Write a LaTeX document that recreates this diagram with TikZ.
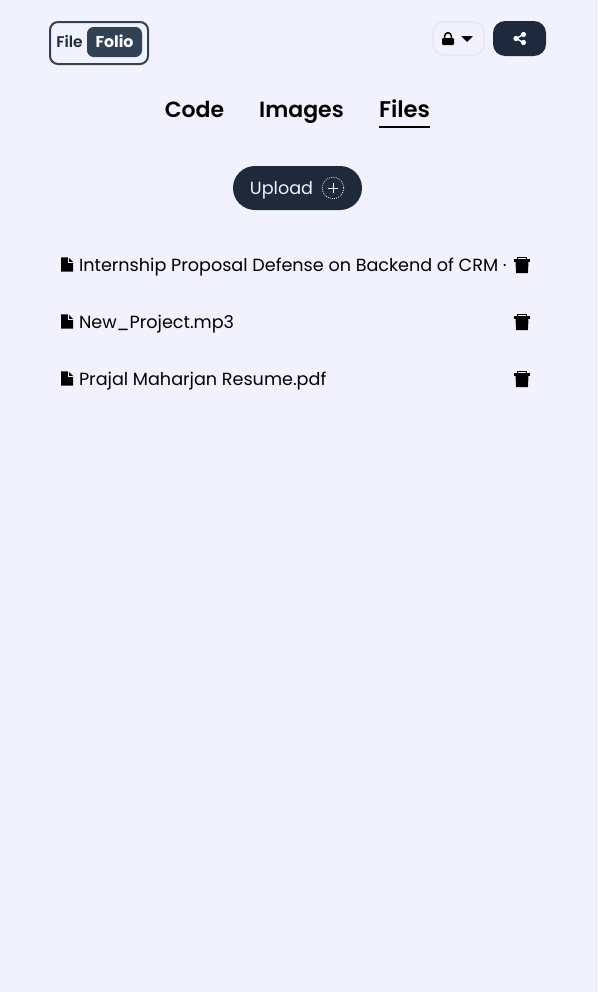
\documentclass[tikz,border=0pt]{standalone}
\usepackage{fontspec}
\setmainfont{Poppins}
\newfontfamily\popsemi{Poppins SemiBold}
\usetikzlibrary{positioning, calc}

\definecolor{pagebg}{HTML}{F2F2FF}
\definecolor{navy}{HTML}{1E293B}
\definecolor{slate}{HTML}{334155}
\definecolor{lockline}{HTML}{E9E9F2}

\begin{document}
\begin{tikzpicture}[
        x = 0.75pt,
        y = -0.75pt,
        every node/.style = {inner sep = 0pt, outer sep = 0pt},
        tablabel/.style = {
            font = \popsemi\fontsize{16.5pt}{20pt}\selectfont,
            text = black,
            anchor = base
        },
        filelabel/.style = {
            font = \fontsize{13.2pt}{16pt}\selectfont,
            text = black,
            anchor = base west
        },
        fileicon/.style = {fill = black, draw = none}
    ]

        \useasboundingbox (0,0) rectangle (597,992);
        \fill[pagebg] (0,0) rectangle (597,992);
        \fill[lockline] (596,0) rectangle (597,992);

        % logo
        \draw[slate, line width = 1.5pt, rounded corners = 6pt, fill = pagebg] (50,22) rectangle (148,64);
        \fill[slate, rounded corners = 5pt] (87,27) rectangle (142,57);
        \node[font = \popsemi\fontsize{11.6pt}{14pt}\selectfont, text = navy, anchor = base] (logofile) at (69.5,47.5) {File};
        \node[font = \bfseries\fontsize{11.8pt}{14pt}\selectfont, text = white, anchor = base] (logofolio) at (114.5,47) {Folio};

        % top right buttons
        \draw[lockline, line width = 1.5pt, rounded corners = 8pt] (433,22) rectangle (484,55);
        \fill[navy, rounded corners = 9pt] (493,21) rectangle (546,56);
        \draw[black, line width = 1.1pt] (444.7,39) -- (444.7,36) arc[start angle = 180, end angle = 360, radius = 3.3] -- (451.3,39);
        \fill[black, rounded corners = 0.8pt] (442,38) rectangle (454,45);
        \fill[black, rounded corners = 0.5pt] (461,36) -- (473,36) -- (467,42) -- cycle;
        \draw[white, line width = 1pt] (523.5,34.5) -- (516,38.5) -- (523.5,42.5);
        \fill[white] (523.5,34.5) circle (2.6) (516,38.5) circle (2.6) (523.5,42.5) circle (2.6);

        % tabs
        \node[tablabel] (code) at (194.5,117) {Code};
        \node[tablabel] (images) at (301.5,117) {Images};
        \node[tablabel, font = \popsemi\fontsize{17pt}{20pt}\selectfont] (files) at (404.5,117) {Files};
        \draw[black, line width = 1.5pt] (379,127) -- (430,127);

        % upload
        \fill[navy, rounded corners = 16.5pt] (233,166) rectangle (362,210);
        \node[font = \fontsize{13.2pt}{16pt}\selectfont, text = pagebg, anchor = base] (upload) at (281.5,194) {Upload};
        \draw[white, line width = 0.6pt, densely dotted] (333,188) circle (10.8);
        \draw[white, line width = 0.7pt] (328,188) -- (338,188) (333,183) -- (333,193);

        % file list
        \foreach \rowy/\rowname/\rowtext in {
            271/first/{Internship Proposal Defense on Backend of CRM ·},
            328/second/{New\_Project.mp3},
            385/third/{Prajal Maharjan Resume.pdf}} {
            \node[filelabel] (\rowname) at (79,\rowy) {\rowtext};
            \fill[fileicon] ($(61,\rowy)+(0,-13.7)$) -- ++(7.5,0) -- ++(4.5,4.5) -- ++(0,9.9) -- ++(-12,0) -- cycle;
            \draw[pagebg, line width = 0.4pt] ($(61,\rowy)+(7.5,-13.7)$) -- ++(0,4.5) -- ++(4.5,0);
            \fill[fileicon] ($(522,\rowy)+(-8,-12)$) rectangle ++(16,2.6);
            \draw[black, line width = 0.8pt] ($(522,\rowy)+(-4.5,-11)$) -- ++(0,-2.5) -- ++(9,0) -- ++(0,2.5);
            \fill[fileicon] ($(522,\rowy)+(-6.5,-9.4)$) -- ++(13,0) -- ++(-0.6,11.6) -- ++(-11.8,0) -- cycle;
        }

    \end{tikzpicture}
\end{document}
